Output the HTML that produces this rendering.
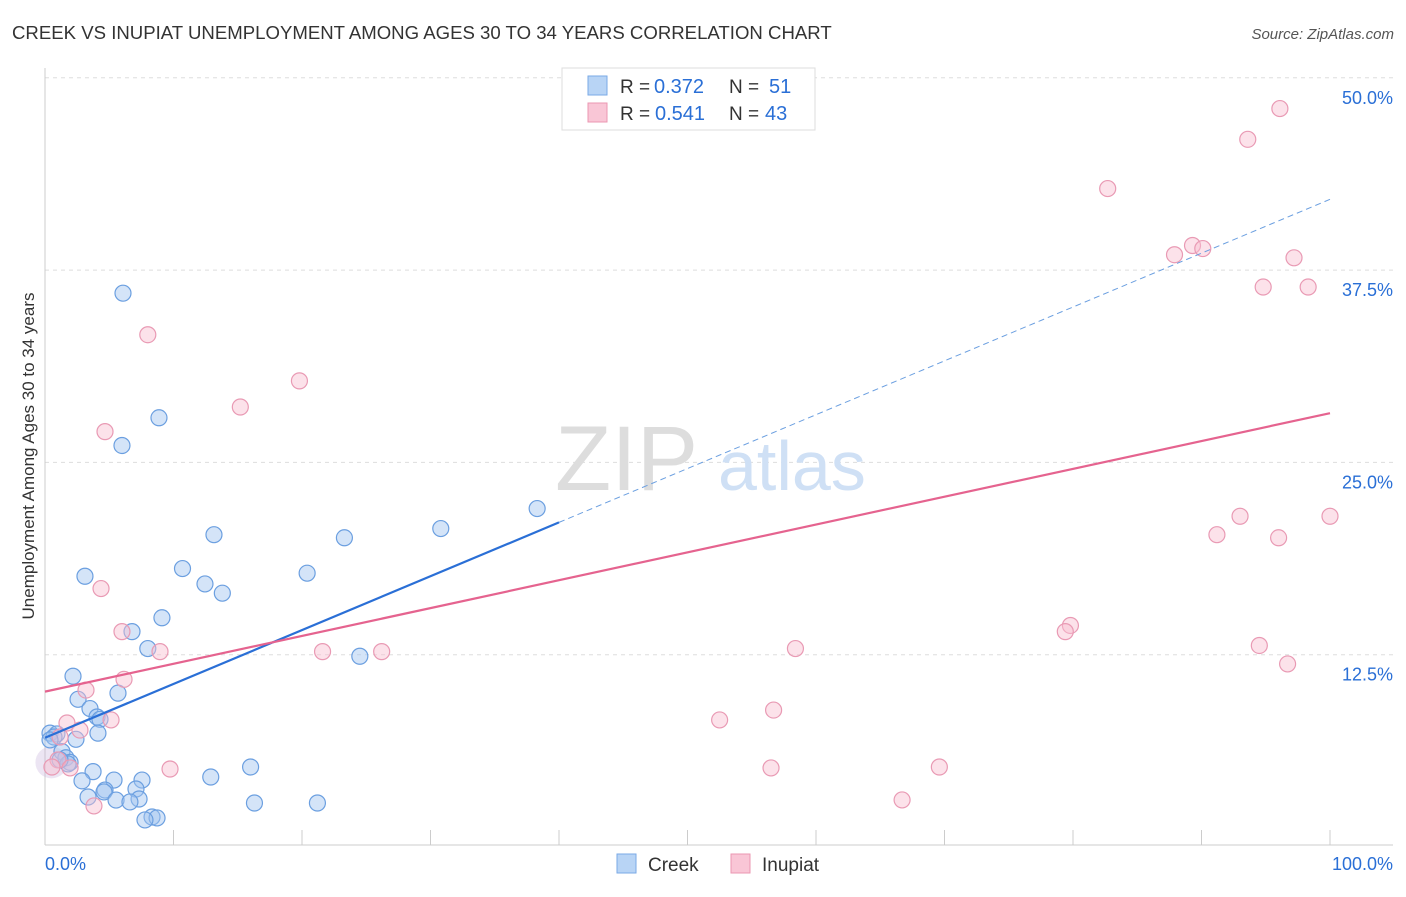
<!DOCTYPE html>
<html><head><meta charset="utf-8">
<style>
body{margin:0;background:#fff;font-family:"Liberation Sans",sans-serif;}
svg text{font-family:"Liberation Sans",sans-serif;}
</style></head>
<body>
<svg id="chart" width="1406" height="892" xmlns="http://www.w3.org/2000/svg">
<text x="12" y="39" font-size="18.6" fill="#333">CREEK VS INUPIAT UNEMPLOYMENT AMONG AGES 30 TO 34 YEARS CORRELATION CHART</text>
<text x="1394" y="39" font-size="15" fill="#555" text-anchor="end" font-style="italic">Source: ZipAtlas.com</text>
<g id="grid"></g>
<g><text x="555" y="490" font-size="92" fill="#ddd" font-family="Liberation Serif">ZIP</text><text x="718" y="490" font-size="70" fill="#cfe0f5">atlas</text></g>
<g id="axes"></g>
<g id="marks"></g>
<g id="trends"></g>
<text transform="translate(34,456) rotate(-90)" font-size="17" fill="#333" text-anchor="middle">Unemployment Among Ages 30 to 34 years</text>
<g>
<rect x="562" y="68" width="253" height="62" fill="#fff" stroke="#ddd"/>
<rect x="588" y="76" width="19" height="19" fill="#b8d4f5" stroke="#7aaae6"/>
<rect x="588" y="103" width="19" height="19" fill="#f9c6d6" stroke="#eb97b2"/>
<text x="620" y="93" font-size="19" fill="#333">R =</text>
<text x="654" y="93" font-size="20" fill="#2a6fd6">0.372</text>
<text x="729" y="93" font-size="19" fill="#333">N =</text>
<text x="769" y="93" font-size="20" fill="#2a6fd6">51</text>
<text x="620" y="120" font-size="19" fill="#333">R =</text>
<text x="655" y="120" font-size="20" fill="#2a6fd6">0.541</text>
<text x="729" y="120" font-size="19" fill="#333">N =</text>
<text x="765" y="120" font-size="20" fill="#2a6fd6">43</text>
</g>
<g>
<rect x="617" y="854" width="19" height="19" fill="#b8d4f5" stroke="#7aaae6"/>
<text x="648" y="871" font-size="19" fill="#333">Creek</text>
<rect x="731" y="854" width="19" height="19" fill="#f9c6d6" stroke="#eb97b2"/>
<text x="762" y="871" font-size="19" fill="#333">Inupiat</text>
</g>
</svg>
<script>
const yTicks=[12.5,25,37.5,50];
const yTickLabels=["12.5%","25.0%","37.5%","50.0%"];
const xTickLabels=["0.0%","100.0%"];
const creekX=[6.07,8.87,5.99,38.3,30.8,13.15,23.3,10.7,20.4,3.11,12.45,13.8,9.1,6.77,8.0,24.5,2.18,5.68,2.57,3.5,4.05,4.28,4.12,0.39,0.93,0.7,2.41,1.32,1.63,1.95,1.79,3.74,16.0,12.9,2.88,5.37,7.55,7.08,4.67,4.59,3.35,5.53,7.32,6.61,16.3,21.2,8.33,8.72,7.78,1.17,0.39];
const creekY=[36.0,27.9,26.1,22.0,20.7,20.3,20.1,18.1,17.8,17.6,17.1,16.5,14.9,14.0,12.9,12.4,11.1,10.0,9.6,9.0,8.45,8.3,7.4,7.4,7.35,7.15,7.0,6.2,5.8,5.5,5.4,4.9,5.2,4.55,4.3,4.35,4.35,3.77,3.7,3.58,3.25,3.05,3.12,2.93,2.86,2.86,1.95,1.89,1.76,5.66,6.96];
const inuX=[96.1,93.6,82.7,89.3,90.1,87.9,97.2,94.8,98.3,8.0,19.8,15.2,4.67,93.0,100,91.2,96.0,4.36,5.99,79.8,79.4,8.95,21.6,26.2,58.4,94.5,96.7,6.15,3.19,1.71,5.14,52.5,56.7,2.72,1.17,1.01,0.54,1.95,9.73,56.5,69.6,66.7,3.81];
const inuY=[48.0,46.0,42.8,39.1,38.9,38.5,38.3,36.4,36.4,33.3,30.3,28.6,27.0,21.5,21.5,20.3,20.1,16.8,14.0,14.4,14.0,12.7,12.7,12.7,12.9,13.1,11.9,10.9,10.2,8.06,8.26,8.26,8.9,7.6,7.15,5.66,5.2,5.14,5.07,5.14,5.2,3.06,2.67];
const creekTrend=[7.1,42.1];
const creekSolidEnd=40;
const inuTrend=[10.1,28.2];

const NS="http://www.w3.org/2000/svg";
const X=v=>45+v*12.85;
const Y=v=>847-v*15.384;
function mk(tag,attrs,parent){const e=document.createElementNS(NS,tag);for(const k in attrs)e.setAttribute(k,attrs[k]);parent.appendChild(e);return e;}
const grid=document.getElementById('grid'),axes=document.getElementById('axes'),marks=document.getElementById('marks'),trends=document.getElementById('trends');
yTicks.forEach((t,i)=>{
 const l=mk('line',{x1:45,x2:1393,y1:Y(t),y2:Y(t),stroke:'#ddd','stroke-dasharray':'4,4'},grid);
 
 
 const tx=mk('text',{x:1393,y:Y(t)+26,'font-size':18,fill:'#2a6fd6','text-anchor':'end'},axes);
 tx.textContent=yTickLabels[i];
 
 
});
const ax=mk('line',{x1:45,x2:45,y1:68,y2:845,stroke:'#ccc'},axes);


const bx=mk('line',{x1:45,x2:1393,y1:845,y2:845,stroke:'#ccc'},axes);


for(let i=0;i<=10;i++){
 const tk=mk('line',{x1:X(i*10),x2:X(i*10),y1:830,y2:845,stroke:'#ccc'},axes);
 
 
}
[[0,'start',45],[1,'end',1393]].forEach(([i,a,x])=>{
 const tx=mk('text',{x:x,y:870,'font-size':18,fill:'#2a6fd6','text-anchor':a},axes);
 tx.textContent=xTickLabels[i];
 
 
});
const big=mk('circle',{cx:X(0.5),cy:Y(5.5),r:16,fill:'rgba(200,180,220,0.35)'},marks);


creekX.forEach((v,i)=>{
 const c=mk('circle',{cx:X(v),cy:Y(creekY[i]),r:8,fill:'rgba(160,196,240,0.45)',stroke:'#6b9fe0','stroke-width':1.2},marks);
 
 
});
inuX.forEach((v,i)=>{
 const c=mk('circle',{cx:X(v),cy:Y(inuY[i]),r:8,fill:'rgba(248,190,208,0.45)',stroke:'#e99ab4','stroke-width':1.2},marks);
 
 
});
const cy=x=>creekTrend[0]+(creekTrend[1]-creekTrend[0])*x/100;
const l1=mk('line',{x1:X(0),y1:Y(cy(0)),x2:X(creekSolidEnd),y2:Y(cy(creekSolidEnd)),stroke:'#2a6fd6','stroke-width':2.2},trends);


const l2=mk('line',{x1:X(creekSolidEnd),y1:Y(cy(creekSolidEnd)),x2:X(100),y2:Y(cy(100)),stroke:'#6b9fe0','stroke-width':1,'stroke-dasharray':'6,4'},trends);


const l3=mk('line',{x1:X(0),y1:Y(inuTrend[0]),x2:X(100),y2:Y(inuTrend[1]),stroke:'#e5638f','stroke-width':2.2},trends);


</script>
</body></html>
